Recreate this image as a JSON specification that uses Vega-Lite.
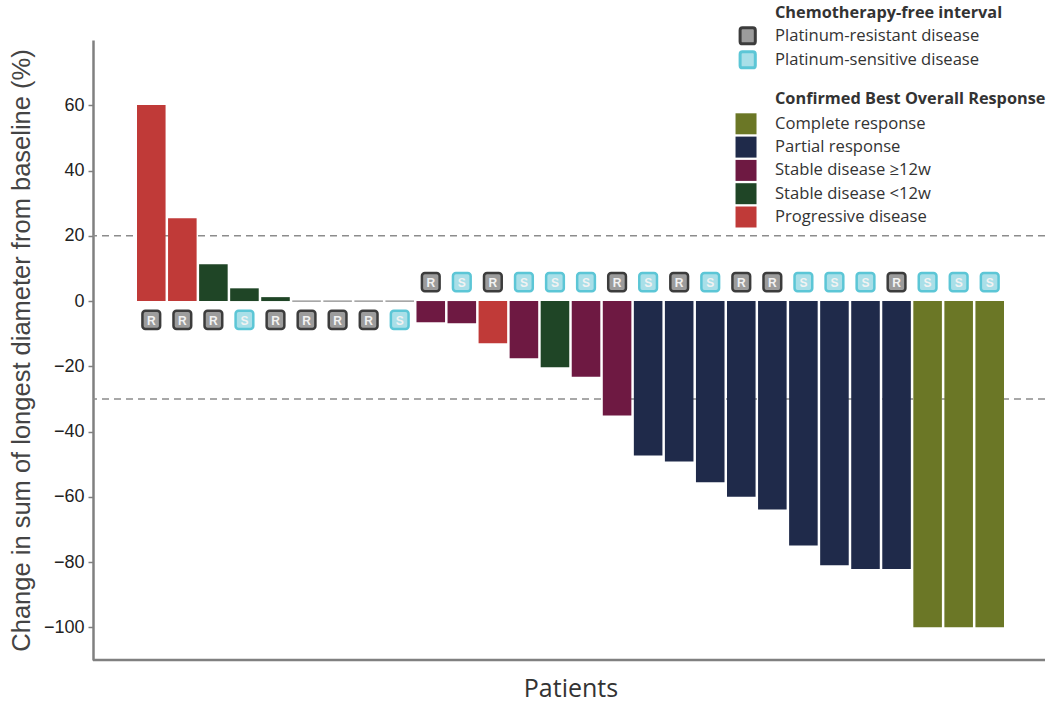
{
  "$schema": "https://vega.github.io/schema/vega-lite/v6.json",
  "width": 952,
  "height": 620,
  "autosize": {"type": "none"},
  "padding": {"left": 93, "top": 40, "right": 14, "bottom": 45},
  "background": "white",
  "config": {
    "view": {"stroke": null},
    "axis": {"labelFont": "Liberation Sans", "titleFont": "Liberation Sans"},
    "legend": {"labelFont": "Open Sans", "titleFont": "Open Sans", "titleLimit": 0, "labelLimit": 0}
  },
  "data": {
    "values": [
      {"patient": 1, "change": 60.1, "bor": "Progressive disease", "cfi": "R"},
      {"patient": 2, "change": 25.4, "bor": "Progressive disease", "cfi": "R"},
      {"patient": 3, "change": 11.3, "bor": "Stable disease <12w", "cfi": "R"},
      {"patient": 4, "change": 3.9, "bor": "Stable disease <12w", "cfi": "S"},
      {"patient": 5, "change": 1.2, "bor": "Stable disease <12w", "cfi": "R"},
      {"patient": 6, "change": 0, "bor": null, "cfi": "R"},
      {"patient": 7, "change": 0, "bor": null, "cfi": "R"},
      {"patient": 8, "change": 0, "bor": null, "cfi": "R"},
      {"patient": 9, "change": 0, "bor": null, "cfi": "S"},
      {"patient": 10, "change": -6.5, "bor": "Stable disease ≥12w", "cfi": "R"},
      {"patient": 11, "change": -6.8, "bor": "Stable disease ≥12w", "cfi": "S"},
      {"patient": 12, "change": -12.9, "bor": "Progressive disease", "cfi": "R"},
      {"patient": 13, "change": -17.5, "bor": "Stable disease ≥12w", "cfi": "S"},
      {"patient": 14, "change": -20.3, "bor": "Stable disease <12w", "cfi": "S"},
      {"patient": 15, "change": -23.2, "bor": "Stable disease ≥12w", "cfi": "S"},
      {"patient": 16, "change": -35.1, "bor": "Stable disease ≥12w", "cfi": "R"},
      {"patient": 17, "change": -47.3, "bor": "Partial response", "cfi": "S"},
      {"patient": 18, "change": -49.2, "bor": "Partial response", "cfi": "R"},
      {"patient": 19, "change": -55.5, "bor": "Partial response", "cfi": "S"},
      {"patient": 20, "change": -60.0, "bor": "Partial response", "cfi": "R"},
      {"patient": 21, "change": -63.9, "bor": "Partial response", "cfi": "R"},
      {"patient": 22, "change": -74.9, "bor": "Partial response", "cfi": "S"},
      {"patient": 23, "change": -81.0, "bor": "Partial response", "cfi": "S"},
      {"patient": 24, "change": -82.1, "bor": "Partial response", "cfi": "S"},
      {"patient": 25, "change": -82.1, "bor": "Partial response", "cfi": "R"},
      {"patient": 26, "change": -100, "bor": "Complete response", "cfi": "S"},
      {"patient": 27, "change": -100, "bor": "Complete response", "cfi": "S"},
      {"patient": 28, "change": -100, "bor": "Complete response", "cfi": "S"}
    ]
  },
  "encoding": {
    "x": {
      "field": "patient",
      "type": "ordinal",
      "scale": {"range": [44, 911], "paddingInner": 0.08, "paddingOuter": 0},
      "axis": {
        "labels": false,
        "ticks": false,
        "domain": false,
        "title": "Patients",
        "titleFont": "Open Sans",
        "titleFontSize": 25,
        "titleFontWeight": "normal",
        "titleColor": "#333",
        "titlePadding": 16
      }
    }
  },
  "layer": [
    {
      "data": {"values": [{"ref": 20}, {"ref": -30}]},
      "mark": {"type": "rule", "color": "#8c8c8c", "strokeWidth": 1.5, "strokeDash": [7, 5]},
      "encoding": {
        "x": null,
        "y": {"field": "ref", "type": "quantitative"}
      }
    },
    {
      "data": {"values": [{"base": -110}]},
      "mark": {"type": "rule", "color": "#808080", "strokeWidth": 2.5},
      "encoding": {
        "x": null,
        "y": {"field": "base", "type": "quantitative"}
      }
    },
    {
      "transform": [{"filter": "datum.bor != null"}],
      "mark": {"type": "bar"},
      "encoding": {
        "y": {
          "field": "change",
          "type": "quantitative",
          "scale": {"domain": [-110, 80], "nice": false, "zero": false},
          "axis": {
            "values": [-100, -80, -60, -40, -20, 0, 20, 40, 60],
            "grid": false,
            "domainColor": "#808080",
            "domainWidth": 2.5,
            "tickColor": "#808080",
            "tickWidth": 1.5,
            "tickSize": 5,
            "labelFontSize": 18,
            "labelColor": "#222",
            "labelPadding": 4,
            "title": "Change in sum of longest diameter from baseline (%)",
            "titleFontSize": 25.5,
            "titleFontWeight": "normal",
            "titleColor": "#444",
            "titlePadding": 9
          }
        },
        "y2": {"datum": 0},
        "color": {
          "field": "bor",
          "type": "nominal",
          "scale": {
            "domain": ["Complete response", "Partial response", "Stable disease ≥12w", "Stable disease <12w", "Progressive disease"],
            "range": ["#6b7726", "#1f2a4a", "#6e1942", "#1f4526", "#c03a38"]
          },
          "legend": {
            "orient": "none",
            "legendX": 682,
            "legendY": 51,
            "padding": 0,
            "title": "Confirmed Best Overall Response",
            "titleFontSize": 16.3,
            "titleFontWeight": "bold",
            "titleColor": "#333",
            "titlePadding": 6,
            "labelFontSize": 16.6,
            "labelColor": "#333",
            "labelOffset": -21,
            "symbolType": "M-4.76,-1L-2.76,-1L-2.76,1L-4.76,1Z",
            "symbolSize": 441,
            "symbolStrokeWidth": 0,
            "symbolOpacity": 1,
            "rowPadding": 2.3
          }
        }
      }
    },
    {
      "transform": [{"filter": "datum.bor == null"}],
      "mark": {"type": "bar", "fill": "#8a8a8a", "stroke": "#8a8a8a", "strokeWidth": 1.2},
      "encoding": {
        "y": {"field": "change", "type": "quantitative"},
        "y2": {"datum": 0}
      }
    },
    {
      "transform": [{"filter": "datum.change >= 0"}],
      "mark": {"type": "bar", "width": {"band": 0.62}, "cornerRadius": 3, "strokeWidth": 2.5},
      "encoding": {
        "y": {"datum": -3.0},
        "y2": {"datum": -8.6},
        "fill": {
          "field": "cfi",
          "type": "nominal",
          "scale": {"domain": ["R", "S"], "range": ["#9c9c9c", "#a9dfe8"]},
          "legend": {
            "orient": "none",
            "legendX": 682,
            "legendY": -35,
            "padding": 0,
            "title": "Chemotherapy-free interval",
            "titleFontSize": 16.3,
            "titleFontWeight": "bold",
            "titleColor": "#333",
            "titlePadding": 5,
            "labelFontSize": 16.6,
            "labelColor": "#333",
            "labelOffset": -19,
            "labelExpr": "datum.label == 'R' ? 'Platinum-resistant disease' : 'Platinum-sensitive disease'",
            "symbolType": "M-5.25,-1L-3.95,-1Q-3.65,-1 -3.65,-0.7L-3.65,0.7Q-3.65,1 -3.95,1L-5.25,1Q-5.55,1 -5.55,0.7L-5.55,-0.7Q-5.55,-1 -5.25,-1Z",
            "symbolSize": 256,
            "symbolStrokeWidth": 3,
            "rowPadding": -6
          }
        },
        "stroke": {
          "field": "cfi",
          "type": "nominal",
          "scale": {"domain": ["R", "S"], "range": ["#3c3c3c", "#5cc6d6"]}
        }
      }
    },
    {
      "transform": [{"filter": "datum.change < 0"}],
      "mark": {"type": "bar", "width": {"band": 0.62}, "cornerRadius": 3, "strokeWidth": 2.5},
      "encoding": {
        "y": {"datum": 3.0},
        "y2": {"datum": 8.6},
        "fill": {"field": "cfi", "type": "nominal"},
        "stroke": {"field": "cfi", "type": "nominal"}
      }
    },
    {
      "transform": [{"filter": "datum.change >= 0"}],
      "mark": {"type": "text", "font": "Liberation Sans", "fontSize": 12, "fontWeight": "bold", "fill": "#f2f2f2", "baseline": "middle", "dy": 1},
      "encoding": {
        "y": {"datum": -5.8},
        "text": {"field": "cfi"}
      }
    },
    {
      "transform": [{"filter": "datum.change < 0"}],
      "mark": {"type": "text", "font": "Liberation Sans", "fontSize": 12, "fontWeight": "bold", "fill": "#f2f2f2", "baseline": "middle", "dy": 1},
      "encoding": {
        "y": {"datum": 5.8},
        "text": {"field": "cfi"}
      }
    }
  ]
}
